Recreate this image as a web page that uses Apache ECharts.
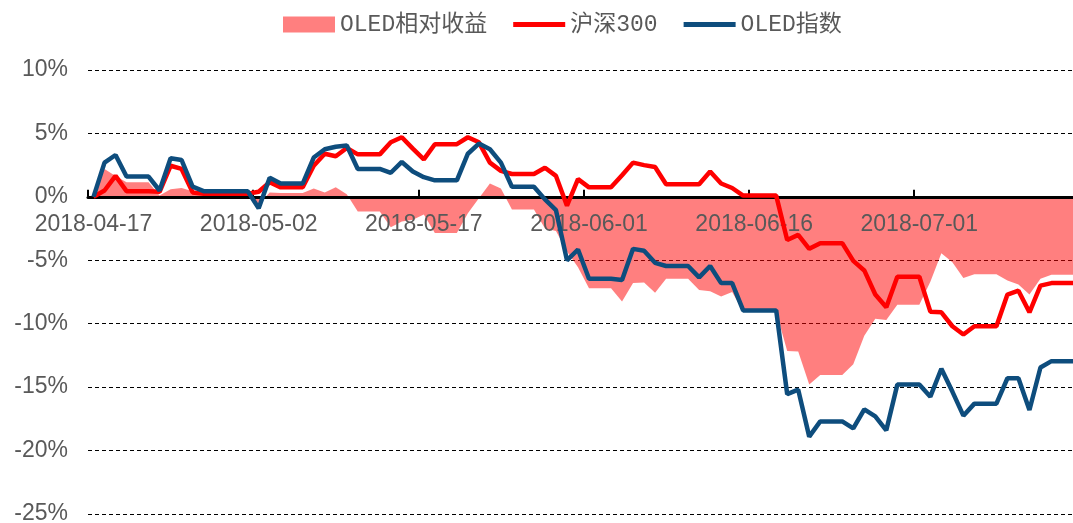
<!DOCTYPE html>
<html>
<head>
<meta charset="utf-8">
<script src="https://cdn.jsdelivr.net/npm/echarts@6/dist/echarts.min.js"></script>
<style>
  html, body { margin: 0; padding: 0; background: #fff; }
  #main { width: 1073px; height: 523px; }
</style>
</head>
<body>
<div id="main"></div>
<script>
// 日期轴：2018-04-17 起的日历日（周末沿用前一交易日数值）
var startDate = '2018-04-17';
var dayCount = 90;
var seriesNames = ['OLED相对收益', '沪深300', 'OLED指数'];
var yTicks = [-25, -20, -15, -10, -5, 0, 5, 10];

// OLED相对收益 (%)
var relativeData = [0, 2.2, 1.65, 1.15, 1.15, 1.15, 0.1, 0.6, 0.7, 0.45,
  0.2, 0.2, 0.2, 0.2, 0.2, -0.6, 0.35, 0.3, 0.3, 0.3,
  0.65, 0.35, 0.75, 0.2, -1.15, -1.15, -1.15, -2.4, -1.95, -1.8,
  -1.4, -2.85, -2.85, -2.85, -1.3, -0.1, 1.05, 0.65, -1.0, -1.0,
  -1.0, -2.5, -2.7, -4.3, -5.55, -7.2, -7.2, -7.2, -8.25, -6.8,
  -6.75, -7.55, -6.45, -6.45, -6.45, -7.35, -7.45, -7.85, -7.5, -9.05,
  -9.05, -9.05, -9.05, -12.15, -12.2, -14.8, -14.05, -14.05, -14.05, -13.2,
  -10.95, -9.6, -9.7, -8.5, -8.5, -8.5, -6.7, -4.45, -5.15, -6.4,
  -6.1, -6.1, -6.1, -6.6, -6.9, -7.7, -6.45, -6.15, -6.15, -6.15];

// 沪深300 (%)
var hs300Data = [0, 0.5, 1.65, 0.45, 0.45, 0.45, 0.4, 2.45, 2.2, 0.35,
  0.25, 0.25, 0.25, 0.25, 0.25, 0.4, 1.15, 0.75, 0.75, 0.75,
  2.45, 3.4, 3.2, 3.85, 3.35, 3.35, 3.35, 4.3, 4.7, 3.8,
  2.95, 4.15, 4.15, 4.15, 4.7, 4.3, 2.7, 2.05, 1.8, 1.8,
  1.8, 2.3, 1.65, -0.7, 1.4, 0.75, 0.75, 0.75, 1.7, 2.7,
  2.5, 2.35, 1.0, 1.0, 1.0, 1.0, 2.0, 1.05, 0.7, 0.1,
  0.1, 0.1, 0.1, -3.4, -3.0, -4.1, -3.65, -3.65, -3.65, -5.05,
  -5.8, -7.7, -8.7, -6.3, -6.3, -6.3, -9.05, -9.1, -10.2, -10.85,
  -10.2, -10.2, -10.2, -7.7, -7.4, -9.1, -7.0, -6.8, -6.8, -6.8];

// OLED指数 (%)
var oledData = [0, 2.7, 3.3, 1.6, 1.6, 1.6, 0.5, 3.05, 2.9, 0.8,
  0.45, 0.45, 0.45, 0.45, 0.45, -0.9, 1.5, 1.05, 1.05, 1.05,
  3.1, 3.75, 3.95, 4.05, 2.2, 2.2, 2.2, 1.9, 2.75, 2.0,
  1.55, 1.3, 1.3, 1.3, 3.4, 4.2, 3.75, 2.7, 0.8, 0.8,
  0.8, -0.2, -1.05, -5.0, -4.15, -6.45, -6.45, -6.45, -6.55, -4.1,
  -4.25, -5.2, -5.45, -5.45, -5.45, -6.35, -5.45, -6.8, -6.8, -8.95,
  -8.95, -8.95, -8.95, -15.55, -15.2, -18.9, -17.7, -17.7, -17.7, -18.25,
  -16.75, -17.3, -18.4, -14.8, -14.8, -14.8, -15.75, -13.55, -15.35, -17.25,
  -16.3, -16.3, -16.3, -14.3, -14.3, -16.8, -13.45, -12.95, -12.95, -12.95];

function pad(n) {
  return n < 10 ? '0' + n : '' + n;
}

var dates = [];
var d0 = new Date(startDate + 'T00:00:00Z');
for (var i = 0; i < dayCount; i++) {
  var d = new Date(d0.getTime() + i * 86400000);
  dates.push(d.getUTCFullYear() + '-' + pad(d.getUTCMonth() + 1) + '-' + pad(d.getUTCDate()));
}

var textColor = '#595959';
var gridTop = 70;
var gridBottom = 9;
var chartHeight = 523;
var yMin = yTicks[0];
var yMax = yTicks[yTicks.length - 1];
// 零轴距离网格顶部的像素，用来把日期轴放在 0% 处
var zeroOffset = (chartHeight - gridTop - gridBottom) * yMax / (yMax - yMin);

var chart = echarts.init(document.getElementById('main'));

var lineIcon = 'path://M0,0H52V5H0Z';

var everyHalfMonth = function (idx) {
  return idx % 15 === 0;
};

var option = {
  animation: false,
  legend: {
    top: 8,
    left: 278,
    itemWidth: 52,
    itemHeight: 16,
    itemGap: 26,
    textStyle: {
      color: textColor,
      fontSize: 23,
      fontFamily: "'Liberation Mono', 'Noto Sans CJK SC'"
    },
    data: [
      { name: seriesNames[0], icon: 'rect' },
      { name: seriesNames[1], icon: lineIcon },
      { name: seriesNames[2], icon: lineIcon }
    ]
  },
  grid: {
    left: 88,
    right: -6,
    top: gridTop,
    bottom: gridBottom,
    outerBoundsMode: 'none',
    containLabel: false
  },
  xAxis: {
    type: 'category',
    position: 'top',
    offset: -zeroOffset,
    data: dates,
    boundaryGap: true,
    z: 5,
    axisLine: {
      onZero: false,
      lineStyle: { color: '#000', width: 3 }
    },
    axisTick: {
      show: true,
      inside: false,
      length: 7,
      interval: everyHalfMonth,
      lineStyle: { color: '#000', width: 2 }
    },
    axisLabel: {
      inside: true,
      interval: everyHalfMonth,
      margin: 16,
      color: textColor,
      fontSize: 23,
      fontFamily: "'Liberation Sans', Arial, sans-serif"
    }
  },
  yAxis: {
    type: 'value',
    min: yMin,
    max: yMax,
    interval: 5,
    axisLine: { show: false },
    axisTick: { show: false },
    axisLabel: {
      margin: 20,
      color: textColor,
      fontSize: 23,
      fontFamily: "'Liberation Sans', Arial, sans-serif",
      formatter: function (v) { return v + '%'; }
    },
    splitLine: {
      lineStyle: { color: '#000', width: 1, type: [4, 3] }
    }
  },
  series: [
    {
      name: seriesNames[0],
      type: 'line',
      data: relativeData,
      symbol: 'none',
      z: 1,
      itemStyle: { color: 'rgba(255,0,0,0.5)' },
      lineStyle: { width: 0 },
      areaStyle: { color: 'rgba(255,0,0,0.5)', opacity: 1, origin: 0 }
    },
    {
      name: seriesNames[1],
      type: 'line',
      data: hs300Data,
      symbol: 'none',
      z: 6,
      itemStyle: { color: '#ff0000' },
      lineStyle: { color: '#ff0000', width: 4.5 }
    },
    {
      name: seriesNames[2],
      type: 'line',
      data: oledData,
      symbol: 'none',
      z: 7,
      itemStyle: { color: '#0e4d7d' },
      lineStyle: { color: '#0e4d7d', width: 4.5 }
    }
  ]
};

chart.setOption(option);
</script>
</body>
</html>
